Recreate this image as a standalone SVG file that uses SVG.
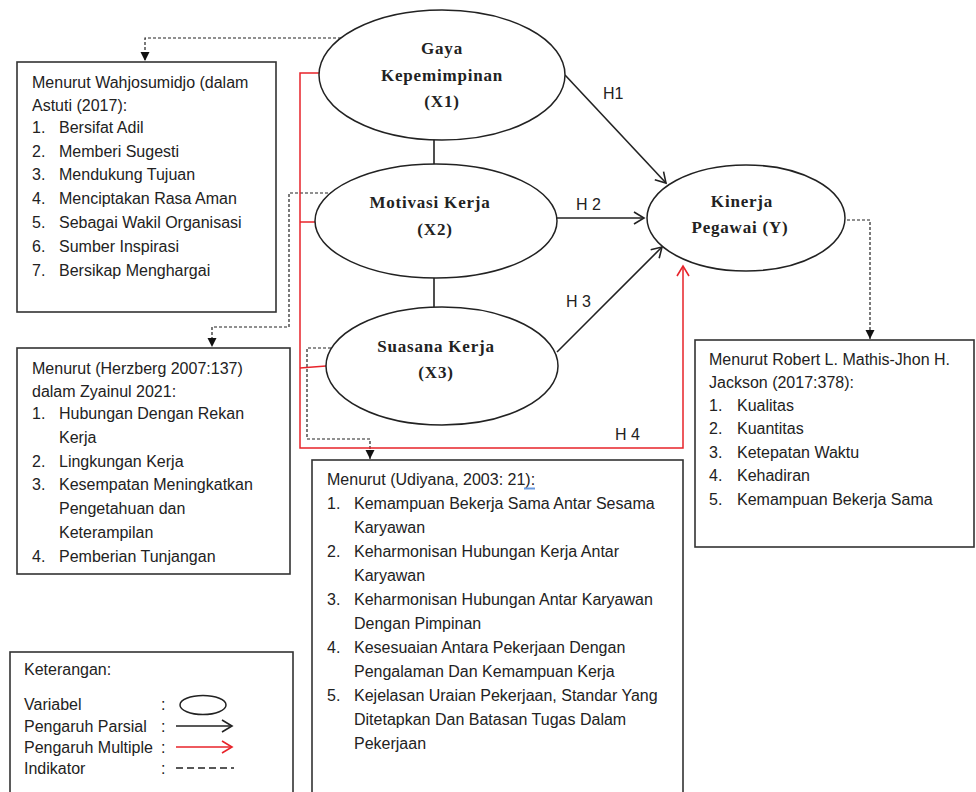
<svg xmlns="http://www.w3.org/2000/svg" width="976" height="792" viewBox="0 0 976 792">
<style>
.box{fill:#fff;stroke:#333;stroke-width:1.6}
.ell{fill:#fff;stroke:#222;stroke-width:1.5}
.t{font-family:"Liberation Sans",Arial,sans-serif;font-size:16px;fill:#222}
.v{font-family:"Liberation Serif","Times New Roman",serif;font-size:17px;font-weight:bold;fill:#222;text-anchor:middle;letter-spacing:0.8px}
.blk{fill:none;stroke:#222;stroke-width:1.6}
.red{fill:none;stroke:#e8232a;stroke-width:1.5}
.dash{fill:none;stroke:#222;stroke-width:1.2;stroke-dasharray:3,2}
</style>
<defs>
<marker id="ab" markerUnits="userSpaceOnUse" markerWidth="14" markerHeight="14" refX="12" refY="7" orient="auto"><path d="M2,1 L12,7 L2,13" fill="none" stroke="#222" stroke-width="1.6"/></marker>
<marker id="ar" markerUnits="userSpaceOnUse" markerWidth="14" markerHeight="14" refX="12" refY="7" orient="auto"><path d="M2,1 L12,7 L2,13" fill="none" stroke="#e8232a" stroke-width="1.6"/></marker>
<marker id="ad" markerUnits="userSpaceOnUse" markerWidth="10" markerHeight="10" refX="9" refY="5" orient="auto"><path d="M0,0.5 L9,5 L0,9.5 Z" fill="#111"/></marker>
</defs>

<g id="connectors">
<path class="dash" d="M341,38 H145 V61" marker-end="url(#ad)"/>
<path class="dash" d="M333,193 H289 V327 H212 V347" marker-end="url(#ad)"/>
<path class="dash" d="M331,348 H307 V439 H370 V459" marker-end="url(#ad)"/>
<path class="dash" d="M847,220 H870 V339" marker-end="url(#ad)"/>
<path class="red" d="M319,73 H300 V448 H683 V266" marker-end="url(#ar)"/>
<path class="red" d="M315,222 H300"/>
<path class="red" d="M326,366 L300,368"/>
<path class="blk" d="M434,139 V164"/>
<path class="blk" d="M434,278 V307"/>
<path class="blk" d="M565,75 L666,183" marker-end="url(#ab)"/>
<path class="blk" d="M557,218 L644,218" marker-end="url(#ab)"/>
<path class="blk" d="M557,352 L662,247" marker-end="url(#ab)"/>
<text class="t" x="603" y="99">H1</text>
<text class="t" x="576" y="210">H 2</text>
<text class="t" x="566" y="307">H 3</text>
<text class="t" x="615" y="440">H 4</text>
</g>

<g id="x1">
<ellipse class="ell" cx="442" cy="75" rx="123" ry="65"/>
<text class="v" x="442" y="54">Gaya</text>
<text class="v" x="442" y="81">Kepemimpinan</text>
<text class="v" x="442" y="107">(X1)</text>
</g>
<g id="x2">
<ellipse class="ell" cx="436" cy="221" rx="121" ry="57"/>
<text class="v" x="430" y="208">Motivasi Kerja</text>
<text class="v" x="435" y="235">(X2)</text>
</g>
<g id="x3">
<ellipse class="ell" cx="442" cy="366" rx="116" ry="59"/>
<text class="v" x="436" y="352">Suasana Kerja</text>
<text class="v" x="436" y="378">(X3)</text>
</g>
<g id="y">
<ellipse class="ell" cx="746" cy="218" rx="99" ry="53"/>
<text class="v" x="742" y="207">Kinerja</text>
<text class="v" x="740" y="233">Pegawai (Y)</text>
</g>

<g id="box-x1">
<rect class="box" x="17" y="62" width="259" height="250"/>
<text class="t" x="32" y="88">Menurut Wahjosumidjo (dalam</text>
<text class="t" x="32" y="111">Astuti (2017):</text>
<text class="t" x="32" y="133">1.</text><text class="t" x="59" y="133">Bersifat Adil</text>
<text class="t" x="32" y="157">2.</text><text class="t" x="59" y="157">Memberi Sugesti</text>
<text class="t" x="32" y="180">3.</text><text class="t" x="59" y="180">Mendukung Tujuan</text>
<text class="t" x="32" y="204">4.</text><text class="t" x="59" y="204">Menciptakan Rasa Aman</text>
<text class="t" x="32" y="228">5.</text><text class="t" x="59" y="228">Sebagai Wakil Organisasi</text>
<text class="t" x="32" y="252">6.</text><text class="t" x="59" y="252">Sumber Inspirasi</text>
<text class="t" x="32" y="276">7.</text><text class="t" x="59" y="276">Bersikap Menghargai</text>
</g>

<g id="box-x2">
<rect class="box" x="17" y="348" width="273" height="226"/>
<text class="t" x="32" y="374">Menurut (Herzberg 2007:137)</text>
<text class="t" x="32" y="397">dalam Zyainul 2021:</text>
<text class="t" x="32" y="419">1.</text><text class="t" x="59" y="419">Hubungan Dengan Rekan</text>
<text class="t" x="59" y="443">Kerja</text>
<text class="t" x="32" y="467">2.</text><text class="t" x="59" y="467">Lingkungan Kerja</text>
<text class="t" x="32" y="490">3.</text><text class="t" x="59" y="490">Kesempatan Meningkatkan</text>
<text class="t" x="59" y="514">Pengetahuan dan</text>
<text class="t" x="59" y="538">Keterampilan</text>
<text class="t" x="32" y="562">4.</text><text class="t" x="59" y="562">Pemberian Tunjangan</text>
</g>

<g id="box-x3">
<rect class="box" x="312" y="460" width="371" height="345"/>
<text class="t" x="327" y="485">Menurut (Udiyana, 2003: 21):</text>
<path d="M524,488.5 h11" stroke="#6a9be0" stroke-width="2" fill="none"/>
<text class="t" x="327" y="509">1.</text><text class="t" x="354" y="509">Kemampuan Bekerja Sama Antar Sesama</text>
<text class="t" x="354" y="533">Karyawan</text>
<text class="t" x="327" y="557">2.</text><text class="t" x="354" y="557">Keharmonisan Hubungan Kerja Antar</text>
<text class="t" x="354" y="581">Karyawan</text>
<text class="t" x="327" y="605">3.</text><text class="t" x="354" y="605">Keharmonisan Hubungan Antar Karyawan</text>
<text class="t" x="354" y="629">Dengan Pimpinan</text>
<text class="t" x="327" y="653">4.</text><text class="t" x="354" y="653">Kesesuaian Antara Pekerjaan Dengan</text>
<text class="t" x="354" y="677">Pengalaman Dan Kemampuan Kerja</text>
<text class="t" x="327" y="701">5.</text><text class="t" x="354" y="701">Kejelasan Uraian Pekerjaan, Standar Yang</text>
<text class="t" x="354" y="725">Ditetapkan Dan Batasan Tugas Dalam</text>
<text class="t" x="354" y="749">Pekerjaan</text>
</g>

<g id="box-y">
<rect class="box" x="695" y="340" width="279" height="207"/>
<text class="t" x="709" y="365">Menurut Robert L. Mathis-Jhon H.</text>
<text class="t" x="709" y="388">Jackson (2017:378):</text>
<text class="t" x="709" y="411">1.</text><text class="t" x="737" y="411">Kualitas</text>
<text class="t" x="709" y="434">2.</text><text class="t" x="737" y="434">Kuantitas</text>
<text class="t" x="709" y="458">3.</text><text class="t" x="737" y="458">Ketepatan Waktu</text>
<text class="t" x="709" y="481">4.</text><text class="t" x="737" y="481">Kehadiran</text>
<text class="t" x="709" y="505">5.</text><text class="t" x="737" y="505">Kemampuan Bekerja Sama</text>
</g>

<g id="legend">
<rect class="box" x="10" y="652" width="283" height="150"/>
<text class="t" x="24" y="675">Keterangan:</text>
<text class="t" x="24" y="710">Variabel</text>
<text class="t" x="24" y="732">Pengaruh Parsial</text>
<text class="t" x="24" y="753">Pengaruh Multiple</text>
<text class="t" x="24" y="774">Indikator</text>
<text class="t" x="161" y="710">:</text>
<text class="t" x="161" y="732">:</text>
<text class="t" x="161" y="753">:</text>
<text class="t" x="161" y="774">:</text>
<ellipse class="ell" cx="203" cy="705" rx="23" ry="9.5"/>
<path class="blk" d="M176,726 H232" marker-end="url(#ab)"/>
<path class="red" d="M176,747 H232" marker-end="url(#ar)"/>
<path d="M176,768 H234" fill="none" stroke="#222" stroke-width="1.3" stroke-dasharray="7,4"/>
</g>
</svg>
